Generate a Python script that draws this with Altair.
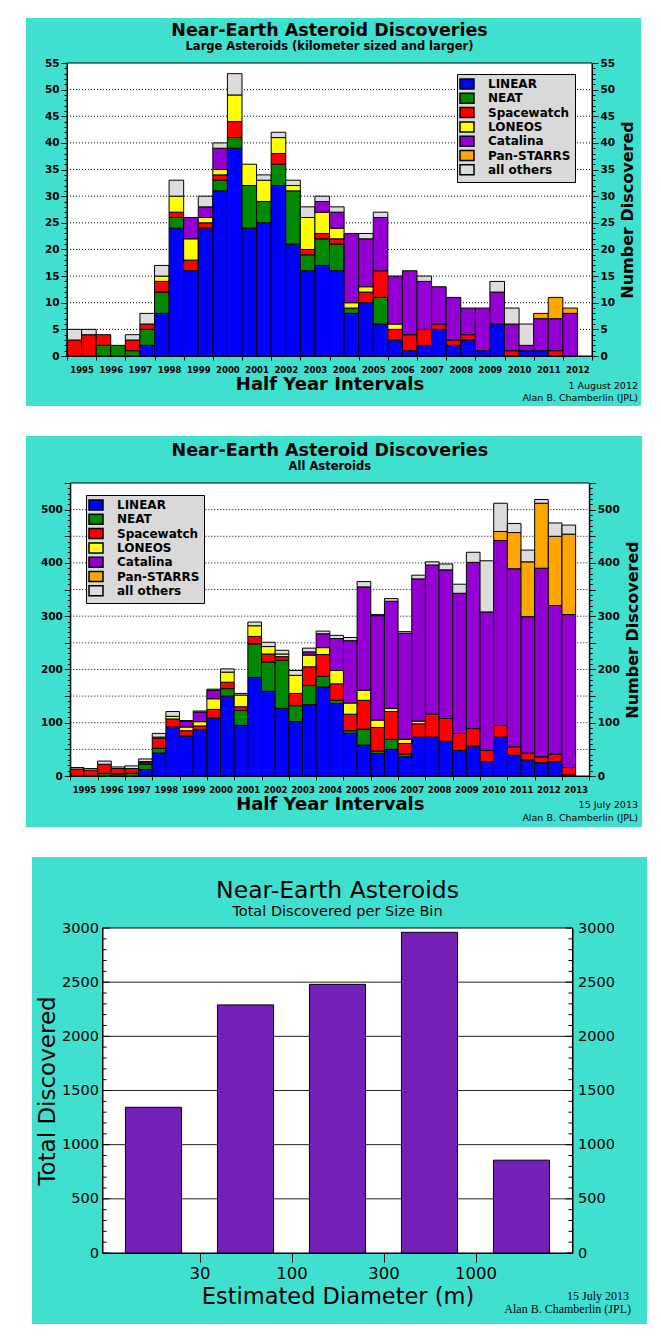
import altair as alt
import pandas as pd

FONT = "DejaVu Sans"
SERIF = "Liberation Serif"
TURQUOISE = "#40e0d0"
SIZE_PURPLE = "#7220b8"

SOURCES = ["LINEAR", "NEAT", "Spacewatch", "LONEOS", "Catalina", "Pan-STARRS", "all others"]
SOURCE_COLORS = ["#0000ff", "#008800", "#ff0000", "#ffff00", "#9400d3", "#ffa500", "#dcdcdc"]

# ---- Large asteroids: half-year intervals, 1995 H1 .. 2012 H1 (35 bars) ----
large_linear = [0, 0, 0, 0, 0, 2, 8, 24, 16, 24, 31, 39, 24, 25, 32, 21, 16, 17, 16, 8,
                10, 6, 3, 1, 2, 5, 2, 3, 1, 6, 0, 1, 1, 0, 0]
large_neat = [0, 0, 2, 2, 1, 3, 4, 2, 0, 0, 2, 2, 8, 4, 4, 10, 3, 5, 5, 1,
              0, 5, 0, 0, 0, 0, 0, 0, 0, 0, 0, 0, 0, 0, 0]
large_spacewatch = [3, 4, 2, 0, 2, 1, 2, 1, 2, 1, 1, 3, 0, 0, 2, 0, 1, 1, 1, 0,
                    2, 5, 2, 3, 3, 1, 1, 1, 0, 0, 1, 0, 0, 1, 0]
large_loneos = [0, 0, 0, 0, 0, 0, 1, 3, 4, 1, 1, 5, 4, 4, 3, 1, 6, 4, 2, 1,
                1, 0, 1, 0, 0, 0, 0, 0, 0, 0, 0, 0, 0, 0, 0]
large_catalina = [0, 0, 0, 0, 0, 0, 0, 0, 4, 2, 4, 0, 0, 0, 0, 0, 0, 2, 3, 13,
                  9, 10, 9, 12, 9, 7, 8, 5, 8, 6, 5, 1, 6, 6, 8]
large_panstarrs = [0, 0, 0, 0, 0, 0, 0, 0, 0, 0, 0, 0, 0, 0, 0, 0, 0, 0, 0, 0,
                   0, 0, 0, 0, 0, 0, 0, 0, 0, 0, 0, 0, 1, 4, 1]
large_others = [2, 1, 0, 0, 1, 2, 2, 3, 0, 2, 1, 4, 0, 1, 1, 1, 2, 1, 1, 0,
                1, 1, 0, 0, 1, 0, 0, 0, 0, 2, 3, 4, 0, 0, 0]

# ---- All asteroids: half-year intervals, 1995 H1 .. 2013 H1 (37 bars) ----
all_linear = [0, 0, 0, 0, 0, 12, 43, 92, 75, 87, 109, 150, 95, 185, 159, 127, 102, 134, 167, 136,
              80, 58, 42, 50, 36, 73, 73, 65, 48, 56, 27, 73, 39, 30, 25, 27, 2]
all_neat = [0, 0, 5, 4, 5, 10, 9, 0, 0, 0, 0, 14, 28, 63, 55, 90, 30, 36, 20, 6,
            5, 30, 5, 19, 5, 0, 0, 0, 0, 0, 0, 0, 0, 0, 0, 0, 0]
all_spacewatch = [13, 11, 17, 10, 9, 3, 19, 15, 10, 7, 16, 12, 7, 14, 15, 7, 23, 35, 41, 31,
                  31, 54, 44, 52, 20, 25, 43, 43, 32, 33, 21, 22, 16, 13, 11, 14, 14]
all_loneos = [0, 0, 0, 0, 0, 2, 2, 5, 7, 8, 20, 19, 22, 20, 14, 5, 34, 22, 13, 25,
              21, 19, 14, 6, 8, 5, 0, 0, 0, 0, 0, 0, 0, 0, 0, 0, 0]
all_catalina = [0, 0, 0, 0, 0, 0, 0, 0, 11, 18, 16, 0, 0, 0, 0, 0, 0, 6, 26, 60,
                117, 194, 196, 201, 199, 267, 280, 279, 263, 312, 260, 347, 334, 256, 354, 279, 287]
all_panstarrs = [0, 0, 0, 0, 0, 0, 0, 0, 0, 0, 0, 0, 0, 0, 0, 0, 0, 0, 0, 0,
                 0, 0, 0, 0, 0, 0, 0, 0, 0, 0, 0, 17, 68, 103, 122, 130, 151]
all_others = [3, 3, 6, 3, 5, 5, 7, 9, 1, 2, 2, 6, 3, 7, 8, 7, 9, 7, 5, 6,
              6, 10, 2, 5, 3, 7, 6, 11, 17, 19, 96, 53, 17, 22, 7, 25, 17]

# ---- Total discovered per size bin ----
size_bins = ["<30 m", "30-100 m", "100-300 m", "300-1000 m", ">1000 m"]
size_totals = [1345, 2290, 2480, 2960, 857]
size_tick_labels = ["30", "100", "300", "1000"]

one = pd.DataFrame({"k": [0]})


def half_year_table(series):
    rows = []
    for i in range(len(series[0])):
        t = 1995 + 0.5 * i
        base = 0
        for k, src in enumerate(SOURCES):
            v = series[k][i]
            if v > 0:
                rows.append({"t": t, "t2": t + 0.5, "source": src,
                             "lo": base, "hi": base + v, "count": v})
            base += v
    return pd.DataFrame(rows)


def value_rect(fill, x0, x1, y0, y1, **kw):
    return alt.Chart(one).mark_rect(fill=fill, **kw).encode(
        x=alt.value(x0), x2=alt.value(x1), y=alt.value(y0), y2=alt.value(y1))


def text_mark(txt, x, y, size, weight="normal", align="center", font=FONT):
    return alt.Chart(one).mark_text(font=font, fontSize=size, fontWeight=weight, align=align,
                                    baseline="alphabetic", color="black").encode(
        x=alt.value(x), y=alt.value(y), text=alt.value(txt))


def discovery_panel(series, ox, W, H, x_end, y_max, minor, major, label_step, grid_step,
                    legend_x, legend_y, box, title, subtitle, title_y, sub_y,
                    date_txt, credit_x, credit_y1, credit_y2):
    df = half_year_table(series)
    xs = alt.Scale(domain=[1995, x_end], range=[ox, ox + W], nice=False, zero=False)
    yvals = list(range(0, y_max + 1, minor))
    tick_size = {"condition": {"test": f"datum.value % {major} === 0", "value": 6}, "value": 3}
    common = dict(values=yvals, labelExpr=f"datum.value % {label_step} === 0 ? datum.label : ''",
                  tickSize=tick_size, grid=False, labelFontSize=10.5, labelFontWeight="bold",
                  labelPadding=2, labelOverlap=False, format="d", zindex=1)
    left_axis = alt.Axis(orient="left", title=None, offset=-ox, **common)
    right_axis = alt.Axis(orient="right", title="Number Discovered", titleFontSize=16,
                          titleFontWeight="bold", titleAngle=270, titleBaseline="top",
                          titlePadding=5, **common)
    x_axis = alt.Axis(values=list(range(1995, x_end + 1)), format="d",
                      labelExpr=f"datum.value < {x_end} ? datum.label : ''",
                      labelOffset=W / (x_end - 1995) / 2, labelFlush=False, labelOverlap=False,
                      tickSize=4, labelFontSize=8.5, labelFontWeight="bold", labelPadding=5,
                      title="Half Year Intervals", titleFontSize=18, titleFontWeight="bold",
                      titlePadding=2, grid=False, zindex=1)
    legend = alt.Legend(orient="none", legendX=legend_x, legendY=legend_y, title=None,
                        direction="vertical", fillColor="#d9d9d9", strokeColor="black",
                        padding=4, labelFont=FONT, labelFontSize=12, labelFontWeight="bold",
                        labelColor="black", labelOffset=15, labelLimit=200,
                        symbolType="M-1.4,-1H1.4V1H-1.4Z", symbolSize=100,
                        symbolStrokeColor="black", symbolStrokeWidth=1.5, symbolOpacity=1,
                        rowPadding=-1.7, zindex=1)
    grid_df = pd.DataFrame({"g": list(range(grid_step, y_max, grid_step))})

    bg = value_rect(TURQUOISE, box[0], box[1], box[2], H + box[3])
    plot_bg = value_rect("white", ox, ox + W, 0, H, stroke="black", strokeWidth=1)
    grid = alt.Chart(grid_df).mark_rule(color="black", strokeDash=[1, 2], strokeWidth=1).encode(
        y=alt.Y("g:Q", scale=alt.Scale(domain=[0, y_max], nice=False), axis=left_axis),
        x=alt.value(ox), x2=alt.value(ox + W))
    bars = alt.Chart(df).mark_bar(stroke="black", strokeWidth=1).encode(
        x=alt.X("t:Q", scale=xs, axis=x_axis), x2="t2:Q",
        y=alt.Y("lo:Q", scale=alt.Scale(domain=[0, y_max], nice=False), axis=right_axis,
                stack=False), y2="hi:Q",
        color=alt.Color("source:N", scale=alt.Scale(domain=SOURCES, range=SOURCE_COLORS),
                        legend=legend))
    t1 = text_mark(title, ox + W / 2, title_y, 17.5, "bold")
    t2 = text_mark(subtitle, ox + W / 2, sub_y, 11.5, "bold")
    c1 = text_mark(date_txt, credit_x, credit_y1, 9.5, align="right")
    c2 = text_mark("Alan B. Chamberlin (JPL)", credit_x, credit_y2, 9.5, align="right")
    return alt.layer(bg, plot_bg, grid, bars, t1, t2, c1, c2).resolve_scale(
        y="independent").properties(width=ox + W, height=H)


def size_panel(ox):
    W, H = 470, 325
    df = pd.DataFrame({"bin": size_bins,
                       "idx": list(range(len(size_bins))),
                       "total": size_totals})
    xs = alt.Scale(domain=[0, len(size_bins)], range=[ox, ox + W], nice=False, zero=False)
    label_vals = list(range(0, 3001, 500))
    minor_vals = list(range(0, 3001, 100))
    lab_common = dict(values=label_vals, ticks=False, grid=False, labelFontSize=14.5,
                      labelOverlap=False, format="d", zindex=1)
    left_axis = alt.Axis(orient="left", title="Total Discovered", titleFontSize=23,
                         titleFontWeight="normal", titlePadding=2, labelPadding=4,
                         offset=-ox, **lab_common)
    right_axis = alt.Axis(orient="right", title=None, labelPadding=5, **lab_common)
    tick_js = "[" + ",".join(f"'{s}'" for s in size_tick_labels) + "][datum.value - 1]"
    x_axis = alt.Axis(values=list(range(1, len(size_tick_labels) + 1)), labelExpr=tick_js,
                      tickSize=9, labelFontSize=16.5, labelPadding=3, labelFlush=False,
                      labelOverlap=False, title="Estimated Diameter (m)", titleFontSize=22.5,
                      titleFontWeight="normal", titlePadding=4, grid=False, zindex=1)
    grid_df = pd.DataFrame({"g": list(range(500, 3000, 500))})
    tick_df = pd.DataFrame({"v": minor_vals})

    def ys():
        return alt.Scale(domain=[0, 3000], nice=False)

    bg = value_rect(TURQUOISE, -35, 580, -71, H + 71)
    plot_bg = value_rect("white", ox, ox + W, 0, H, stroke="black", strokeWidth=1)
    grid = alt.Chart(grid_df).mark_rule(color="#222222", strokeWidth=1).encode(
        y=alt.Y("g:Q", scale=ys(), axis=left_axis),
        x=alt.value(ox), x2=alt.value(ox + W))
    bars = alt.Chart(df).transform_calculate(
        x0="datum.idx + 0.195", x1="datum.idx + 0.805").mark_bar(
        color=SIZE_PURPLE, stroke="black", strokeWidth=1, orient="vertical").encode(
        x=alt.X("x0:Q", scale=xs, axis=x_axis), x2="x1:Q",
        y=alt.Y("total:Q", scale=ys(), axis=right_axis), y2=alt.datum(0))
    layers = [bg, plot_bg, grid, bars]
    # inward ticks on both vertical edges (minor every 100, major every 500)
    for x_edge, sign in ((ox, 1), (ox + W, -1)):
        for test, length in (("datum.v % 500 !== 0", 4), ("datum.v % 500 === 0", 7)):
            layers.append(
                alt.Chart(tick_df).transform_filter(test).mark_rule(
                    color="black", strokeWidth=1).encode(
                    y=alt.Y("v:Q", scale=ys(), axis=None),
                    x=alt.value(x_edge), x2=alt.value(x_edge + sign * length)))
    layers += [
        text_mark("Near-Earth Asteroids", ox + W / 2, -30, 23.5),
        text_mark("Total Discovered per Size Bin", ox + W / 2, -12.5, 14.5),
        text_mark("15 July 2013", 562, H + 47, 12, align="right", font=SERIF),
        text_mark("Alan B. Chamberlin (JPL)", 564, H + 60, 12, align="right", font=SERIF),
    ]
    return alt.layer(*layers).resolve_scale(y="independent").properties(width=ox + W, height=H)


p1 = discovery_panel(
    [large_linear, large_neat, large_spacewatch, large_loneos, large_catalina,
     large_panstarrs, large_others],
    ox=0, W=525, H=293, x_end=2013, y_max=55, minor=1, major=5, label_step=5, grid_step=5,
    legend_x=390, legend_y=11, box=(-41, 574, -45, 50),
    title="Near-Earth Asteroid Discoveries",
    subtitle="Large Asteroids (kilometer sized and larger)", title_y=-27, sub_y=-13.5,
    date_txt="1 August 2012", credit_x=571, credit_y1=326, credit_y2=338)

p2 = discovery_panel(
    [all_linear, all_neat, all_spacewatch, all_loneos, all_catalina,
     all_panstarrs, all_others],
    ox=3.3, W=519, H=293, x_end=2014, y_max=550, minor=10, major=50, label_step=100,
    grid_step=50, legend_x=19, legend_y=12, box=(-41, 575, -47, 51),
    title="Near-Earth Asteroid Discoveries", subtitle="All Asteroids", title_y=-27, sub_y=-13.5,
    date_txt="15 July 2013", credit_x=571, credit_y1=325, credit_y2=338)

p3 = size_panel(ox=35.5)

chart = alt.vconcat(p1, p2, p3, spacing=28).resolve_scale(
    color="independent").resolve_legend(color="independent").properties(
    padding={"left": 17, "top": 9, "right": 5, "bottom": 5}, background="white"
).configure_view(stroke="transparent").configure_axis(
    domainColor="black", tickColor="black", labelColor="black", titleColor="black",
    labelFont=FONT, titleFont=FONT, domainWidth=1, tickWidth=1)

chart.save("out.html", embed_options={"renderer": "svg", "actions": False})
